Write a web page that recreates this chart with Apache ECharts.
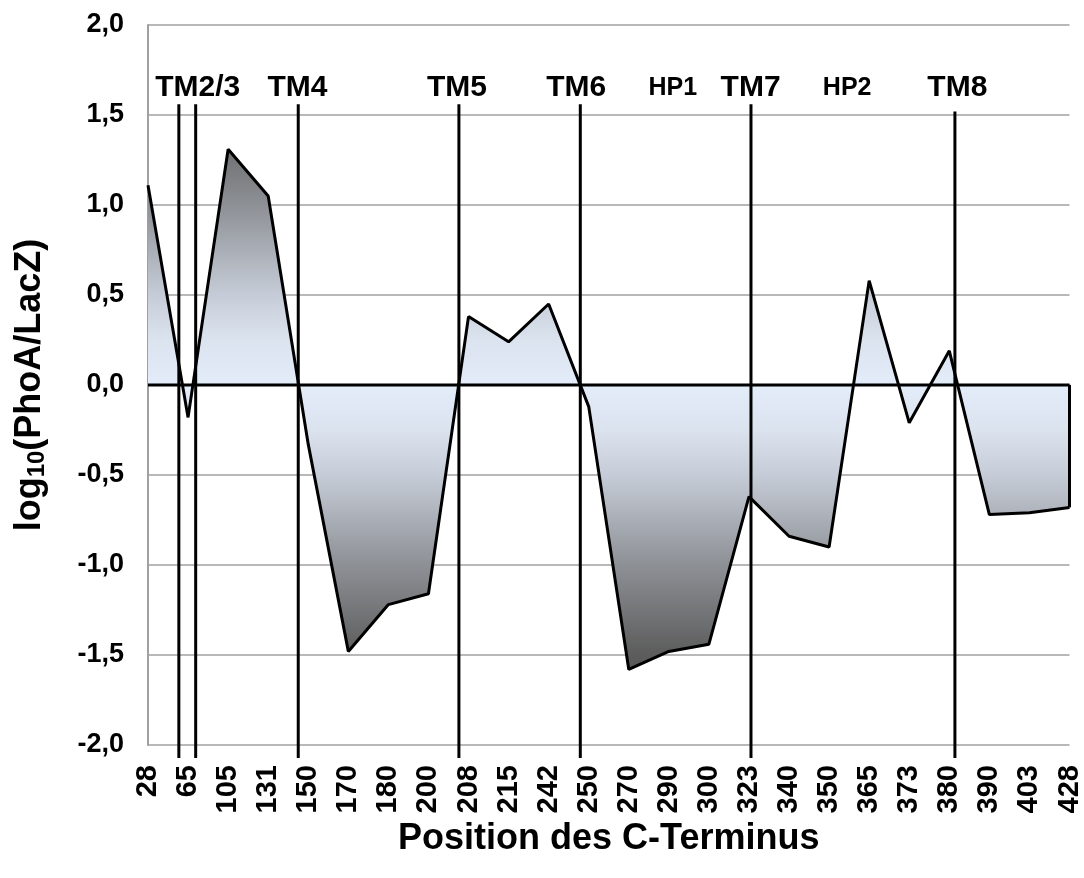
<!DOCTYPE html>
<html>
<head>
<meta charset="utf-8">
<script src="https://cdn.jsdelivr.net/npm/echarts@6/dist/echarts.min.js"></script>
<style>
  html, body { margin: 0; padding: 0; background: #fff; }
  #chart { width: 1084px; height: 878px; }
</style>
</head>
<body>
<div id="chart"></div>
<script>
// C-terminal fusion positions (category labels) and log10(PhoA/LacZ) ratios
const positions = ['28', '65', '105', '131', '150', '170', '180', '200', '208', '215', '242', '250',
  '270', '290', '300', '323', '340', '350', '365', '373', '380', '390', '403', '428'];
const ratios = [1.11, -0.18, 1.31, 1.05, -0.33, -1.48, -1.22, -1.16, 0.38, 0.24, 0.45, -0.12,
  -1.58, -1.48, -1.44, -0.62, -0.84, -0.90, 0.58, -0.21, 0.19, -0.72, -0.71, -0.68];

// Membrane segment boundaries, in category-index units, and where each line starts at the top
const boundaryAt = [0.77, 1.19, 3.75, 7.76, 10.79, 15.05, 20.14];
const boundaryTop = [1.56, 1.56, 1.56, 1.56, 1.56, 1.56, 1.52];

// Segment names written above the plot
const segmentNames = ['TM2/3', 'TM4', 'TM5', 'TM6', 'HP1', 'TM7', 'HP2', 'TM8'];
const segmentAt = [1.24, 3.73, 7.71, 10.69, 13.1, 15.04, 17.45, 20.2];

// Y tick range
const yMin = -2, yMax = 2, yStep = 0.5;

const FONT = '"Liberation Sans", Arial, sans-serif';

// Fill colour as a function of distance from zero: pale blue near 0, dark grey at the extremes
const shadeStops = [[0, '#e3ecf9'], [0.25, '#dbe3ef'], [0.5, '#c6ccd7'], [1.0, '#8d9095'], [1.5, '#5c5c5c'], [2.0, '#4e4e4e']];
function hexToRgb(h) { return [1, 3, 5].map(i => parseInt(h.substr(i, 2), 16)); }
function shadeAt(a) {
  for (let i = 1; i < shadeStops.length; i++) {
    if (a <= shadeStops[i][0]) {
      const [a0, c0] = shadeStops[i - 1], [a1, c1] = shadeStops[i];
      const t = (a - a0) / (a1 - a0);
      const r0 = hexToRgb(c0), r1 = hexToRgb(c1);
      const m = r0.map((v, k) => Math.round(v + (r1[k] - v) * t));
      return 'rgb(' + m.join(',') + ')';
    }
  }
  return shadeStops[shadeStops.length - 1][1];
}
// Gradient over the area's bounding box (from its highest to its lowest value, baseline 0 included)
const areaTop = Math.max(0, ...ratios), areaBottom = Math.min(0, ...ratios);
const gradVals = [areaTop];
[1.5, 1.0, 0.5, 0.25, 0, -0.25, -0.5, -1.0, -1.5].forEach(v => { if (v < areaTop && v > areaBottom) gradVals.push(v); });
gradVals.push(areaBottom);
const colorStops = gradVals.map(v => ({ offset: (areaTop - v) / (areaTop - areaBottom), color: shadeAt(Math.abs(v)) }));

const fmtComma = v => v.toFixed(1).replace('.', ',');

const chart = echarts.init(document.getElementById('chart'), null, { renderer: 'canvas' });
chart.setOption({
  animation: false,
  backgroundColor: '#ffffff',
  textStyle: { fontFamily: FONT },
  grid: { left: 148, right: 11, top: 25, bottom: 133, containLabel: false },
  xAxis: {
    type: 'value',
    min: 0,
    max: positions.length - 1,
    interval: 1,
    name: 'Position des C-Terminus',
    nameLocation: 'middle',
    nameGap: 69,
    nameTextStyle: { fontSize: 36, fontWeight: 'bold', color: '#000', fontFamily: FONT },
    axisLine: { show: true, lineStyle: { color: '#a0a0a0', width: 2 } },
    axisTick: { show: false },
    splitLine: { show: false },
    axisLabel: {
      rotate: 90,
      margin: 20,
      fontSize: 29,
      fontWeight: 'bold',
      color: '#000',
      fontFamily: FONT,
      formatter: v => positions[Math.round(v)] || ''
    }
  },
  yAxis: {
    type: 'value',
    min: yMin,
    max: yMax,
    interval: yStep,
    name: '{a|log}{s|10}{a|(PhoA/LacZ)}',
    nameLocation: 'middle',
    nameGap: 98,
    nameTextStyle: {
      color: '#000',
      rich: {
        a: { fontSize: 36, fontWeight: 'bold', color: '#000', fontFamily: FONT, lineHeight: 40 },
        s: { fontSize: 24, fontWeight: 'bold', color: '#000', fontFamily: FONT, lineHeight: 40, padding: [14, 0, 0, 0] }
      }
    },
    axisLine: { show: true, lineStyle: { color: '#a0a0a0', width: 2 } },
    axisTick: { show: false },
    splitLine: { show: true, lineStyle: { color: '#a0a0a0', width: 1.5 } },
    axisLabel: {
      margin: 24,
      fontSize: 27,
      fontWeight: 'bold',
      color: '#000',
      fontFamily: FONT,
      formatter: fmtComma
    }
  },
  series: [
    {
      name: 'log10(PhoA/LacZ)',
      type: 'line',
      data: ratios.map((v, i) => [i, v]),
      showSymbol: false,
      symbol: 'none',
      lineStyle: { color: '#000', width: 3 },
      areaStyle: {
        origin: 0,
        opacity: 1,
        color: { type: 'linear', x: 0, y: 0, x2: 0, y2: 1, colorStops: colorStops }
      },
      z: 2
    },
    {
      // zero baseline and the closing edge of the area at the last position
      type: 'custom',
      z: 3,
      silent: true,
      data: [[ratios.length - 1, ratios[ratios.length - 1]]],
      renderItem: (params, api) => {
        const lastX = api.value(0), lastY = api.value(1);
        const a = api.coord([0, 0]), b = api.coord([lastX, 0]), c = api.coord([lastX, lastY]);
        return {
          type: 'group',
          children: [
            { type: 'line', shape: { x1: a[0], y1: a[1], x2: b[0], y2: b[1] }, style: { stroke: '#000', lineWidth: 3 } },
            { type: 'line', shape: { x1: b[0], y1: b[1], x2: c[0], y2: c[1] }, style: { stroke: '#000', lineWidth: 3 } }
          ]
        };
      }
    },
    {
      // segment boundary lines, running slightly below the x axis
      type: 'custom',
      z: 4,
      silent: true,
      clip: false,
      data: boundaryAt.map((x, i) => [x, boundaryTop[i]]),
      renderItem: (params, api) => {
        const p1 = api.coord([api.value(0), api.value(1)]);
        const p2 = api.coord([api.value(0), yMin]);
        return {
          type: 'line',
          shape: { x1: p1[0], y1: p1[1], x2: p2[0], y2: p2[1] + 13 },
          style: { stroke: '#000', lineWidth: 3 }
        };
      }
    },
    {
      // segment names
      type: 'custom',
      z: 5,
      silent: true,
      clip: false,
      data: segmentAt.map(x => [x, 1.65]),
      renderItem: (params, api) => {
        const p = api.coord([api.value(0), api.value(1)]);
        const name = segmentNames[params.dataIndex];
        const size = name.startsWith('HP') ? 25 : 30;
        return {
          type: 'text',
          x: p[0],
          y: p[1],
          style: {
            text: name,
            font: 'bold ' + size + 'px ' + FONT,
            fill: '#000',
            align: 'center',
            verticalAlign: 'middle',
            textAlign: 'center',
            textVerticalAlign: 'middle'
          }
        };
      }
    }
  ]
});
</script>
</body>
</html>
